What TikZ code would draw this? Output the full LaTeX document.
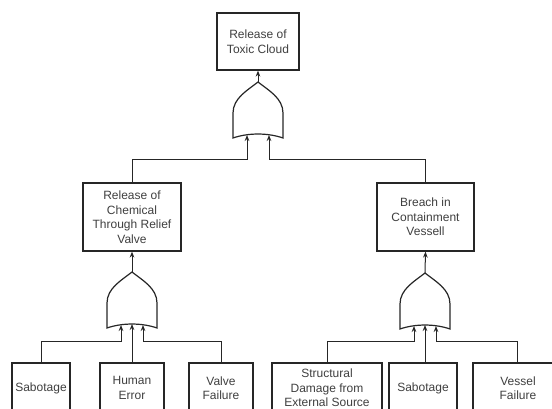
\documentclass[tikz,border=0pt]{standalone}
\usepackage{fontspec}
\setmainfont{Liberation Sans}
\usetikzlibrary{arrows.meta}

\definecolor{ink}{HTML}{262626}
\definecolor{txt}{HTML}{3F3F3F}

\tikzset{
  event/.style={draw=ink, line width=1.2pt, text=txt, align=center,
    inner sep=0pt, font=\fontsize{12}{14.5}\selectfont},
  link/.style={draw=ink, line width=1pt},
  arr/.style={link, -{Stealth[length=6pt,width=4.6pt]}},
  % OR gate: apex at the origin, inputs on the concave base
  orgate/.pic={
    \draw[ink, line width=1.2pt, line join=miter]
      (-25,31) -- (-25,56) .. controls (-10,50.7) and (10,50.7) .. (25,56)
      -- (25,31) .. controls (25,16) and (10,8) .. (0,0)
      .. controls (-10,8) and (-25,16) .. (-25,31) -- cycle;
    \coordinate (-top) at (0,0);
    \coordinate (-inL) at (-11,53);
    \coordinate (-inC) at (0,52);
    \coordinate (-inR) at (11,53);
  }
}

\begin{document}
\begin{tikzpicture}[x=1pt, y=-1pt]
  \useasboundingbox (0,0) rectangle (552,408);
  \clip (0,0) rectangle (552,408);

  % top event
  \node[event, minimum width=82pt, minimum height=57pt] (top) at (258,41.5)
    {Release of\\Toxic Cloud};

  % intermediate events
  \node[event, minimum width=98pt, minimum height=68pt] (relief) at (132,217)
    {Release of\\Chemical\\Through Relief\\Valve};
  \node[event, minimum width=97pt, minimum height=68pt] (breach) at (425.5,217)
    {Breach in\\Containment\\Vessell};

  % basic events
  \node[event, minimum width=58pt, minimum height=50pt] (sab1) at (41,388) {Sabotage};
  \node[event, minimum width=64pt, minimum height=50pt] (human) at (132,388) {Human\\Error};
  \node[event, minimum width=64pt, minimum height=50pt] (valve) at (221,388) {Valve\\Failure};
  \node[event, minimum width=110pt, minimum height=50pt] (struct) at (327,388)
    {Structural\\Damage from\\External Source};
  \node[event, minimum width=68pt, minimum height=50pt] (sab2) at (423,388) {Sabotage};
  \node[event, minimum width=90pt, minimum height=50pt] (vessel) at (518,388) {Vessel\\Failure};

  % gates
  \pic (g1) at (258,82) {orgate};
  \pic (g2) at (132,272) {orgate};
  \pic (g3) at (425,273) {orgate};

  % bus levels
  \coordinate (busTop) at (0,159);
  \coordinate (busLow) at (0,341);

  % gate outputs
  \draw[arr] (g1-top) -- (top.south);
  \draw[arr] (g2-top) -- (relief.south);
  \draw[arr] (g3-top) -- (breach.south);

  % inputs to the top gate
  \draw[arr] (relief.north) |- (g1-inL |- busTop) -- (g1-inL);
  \draw[arr] (breach.north -| g3-top) |- (g1-inR |- busTop) -- (g1-inR);

  % inputs to the left gate
  \draw[arr] (sab1.north) |- (g2-inL |- busLow) -- (g2-inL);
  \draw[arr] (human.north) -- (g2-inC);
  \draw[arr] (valve.north) |- (g2-inR |- busLow) -- (g2-inR);

  % inputs to the right gate
  \draw[arr] (struct.north) |- (g3-inL |- busLow) -- (g3-inL);
  \draw[arr] (sab2.north -| g3-inC) -- (g3-inC);
  \draw[arr] (vessel.north -| 517,0) |- (g3-inR |- busLow) -- (g3-inR);
\end{tikzpicture}
\end{document}
